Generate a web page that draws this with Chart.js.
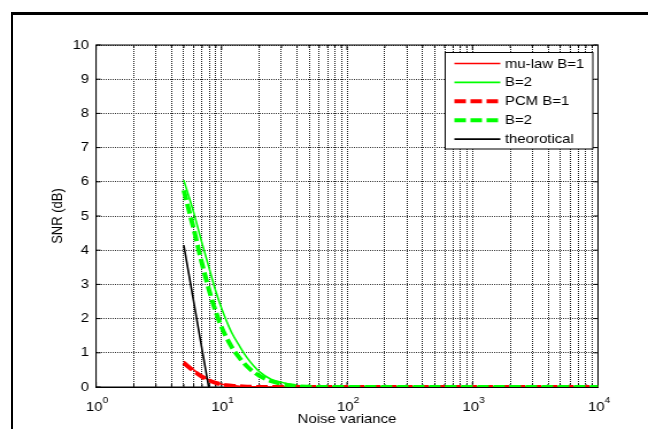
<!DOCTYPE html>
<html>
<head>
<meta charset="utf-8">
<script src="https://cdn.jsdelivr.net/npm/chart.js@4.4.1/dist/chart.umd.min.js"></script>
<style>
  html, body { margin: 0; padding: 0; background: #fff; overflow: hidden; }
  #frame { position: absolute; left: 11px; top: 12px; width: 700px; height: 500px;
           border-left: 2px solid #000; border-top: 3px solid #000; }
  /* the reference figure is stretched horizontally, so draw narrow and scale */
  #wrap { position: absolute; left: 0; top: 0; width: 564px; height: 429px;
          transform: scaleX(1.1489); transform-origin: 0 0; }
</style>
</head>
<body>
<div id="frame"></div>
<div id="wrap"><canvas id="c" width="564" height="429"></canvas></div>
<script>
// ── data ──
const NOISE_VAR = [5, 6, 7, 8, 9, 10, 12, 14, 16, 18, 20, 25, 30, 35, 40, 50, 70, 100, 200, 500, 1000, 2000, 5000, 10000];
const MULAW_B1  = [0.75, 0.50, 0.32, 0.20, 0.13, 0.08, 0.04, 0.02, 0.01, 0.005, 0, 0, 0, 0, 0, 0, 0, 0, 0, 0, 0, 0, 0, 0];
const MULAW_B2  = [6.05, 5.10, 4.20, 3.45, 2.80, 2.30, 1.60, 1.18, 0.85, 0.62, 0.45, 0.22, 0.14, 0.08, 0.04, 0.01, 0, 0, 0, 0, 0, 0, 0, 0];
const PCM_B1    = [0.70, 0.47, 0.30, 0.19, 0.12, 0.075, 0.04, 0.02, 0.01, 0.005, 0, 0, 0, 0, 0, 0, 0, 0, 0, 0, 0, 0, 0, 0];
const PCM_B2    = [5.75, 4.62, 3.60, 2.80, 2.20, 1.75, 1.18, 0.84, 0.60, 0.44, 0.33, 0.17, 0.09, 0.05, 0.02, 0.005, 0, 0, 0, 0, 0, 0, 0, 0];
const THEORY_X  = [5, 10];
const THEORY    = [4.15, -2.15];

const DECADES    = [1, 10, 100, 1000, 10000];
const DECADE_EXP = ['0', '1', '2', '3', '4'];
const MANTISSAS  = [1, 2, 3, 4, 5, 6, 7, 8, 9];
const LABELS     = ['mu-law B=1', 'B=2', 'PCM B=1', 'B=2', 'theorotical'];

const FONT = '"Liberation Sans", Arial, sans-serif';

const pts = (xs, ys) => xs.map((x, i) => ({ x, y: ys[i] }));

const line = (ctx, x1, y1, x2, y2) => {
  ctx.beginPath(); ctx.moveTo(x1, y1); ctx.lineTo(x2, y2); ctx.stroke();
};

// ── box, inward ticks, labels, titles, legend ──
const matlabAxes = {
  id: 'matlabAxes',
  beforeDatasetsDraw(chart) {
    const { ctx, chartArea: a, scales: { x, y } } = chart;
    ctx.save();
    ctx.strokeStyle = '#000';
    ctx.lineWidth = 1;
    ctx.strokeRect(a.left, a.top, a.right - a.left, a.bottom - a.top);
    x.ticks.forEach(t => {
      const px = x.getPixelForValue(t.value);
      const len = t.major ? 5 : 3;
      line(ctx, px, a.bottom, px, a.bottom - len);
      line(ctx, px, a.top, px, a.top + len);
    });
    y.ticks.forEach(t => {
      const py = y.getPixelForValue(t.value);
      line(ctx, a.left, py, a.left + 4, py);
      line(ctx, a.right, py, a.right - 4, py);
    });
    ctx.restore();
  },
  afterDraw(chart) {
    const { ctx, chartArea: a, scales: { x } } = chart;
    ctx.save();
    ctx.fillStyle = '#000';

    // x tick labels 10^n
    DECADES.forEach((v, i) => {
      const px = x.getPixelForValue(v);
      ctx.font = '13px ' + FONT;
      const w1 = ctx.measureText('10').width;
      ctx.font = '9px ' + FONT;
      const w2 = ctx.measureText(DECADE_EXP[i]).width;
      const x0 = px - (w1 + w2) / 2 + 1;
      ctx.textBaseline = 'alphabetic';
      ctx.textAlign = 'left';
      ctx.font = '13px ' + FONT;
      ctx.fillText('10', x0, 411);
      ctx.font = '9px ' + FONT;
      ctx.fillText(DECADE_EXP[i], x0 + w1, 403);
    });

    // axis titles
    ctx.font = '13px ' + FONT;
    ctx.textAlign = 'center';
    ctx.textBaseline = 'middle';
    ctx.fillText('Noise variance', (a.left + a.right) / 2, 419);
    ctx.save();
    ctx.translate(50.5, (a.top + a.bottom) / 2);
    ctx.rotate(-Math.PI / 2);
    ctx.fillText('SNR (dB)', 0, 0);
    ctx.restore();

    // legend
    const bw = 128.5, bh = 96.5;
    const bx = a.right - 4.5 - bw, by = a.top + 7.5;
    ctx.fillStyle = '#fff';
    ctx.fillRect(bx, by, bw, bh);
    ctx.strokeStyle = '#000';
    ctx.lineWidth = 1;
    ctx.strokeRect(bx, by, bw, bh);
    chart.data.datasets.forEach((ds, i) => {
      const ry = by + 11 + i * 18.9;
      ctx.strokeStyle = ds.borderColor;
      ctx.lineWidth = ds.borderWidth;
      ctx.setLineDash(ds.borderDash || []);
      line(ctx, bx + 8, ry, bx + 48, ry);
      ctx.setLineDash([]);
      ctx.fillStyle = '#000';
      ctx.font = '13px ' + FONT;
      ctx.textAlign = 'left';
      ctx.textBaseline = 'middle';
      ctx.fillText(LABELS[i], bx + 52, ry + 0.5);
    });
    ctx.restore();
  }
};

new Chart(document.getElementById('c'), {
  type: 'line',
  data: {
    datasets: [
      { label: LABELS[0], data: pts(NOISE_VAR, MULAW_B1), borderColor: '#ff0000', borderWidth: 1.6, order: 4 },
      { label: LABELS[1], data: pts(NOISE_VAR, MULAW_B2), borderColor: '#00ff00', borderWidth: 1.6, order: 3 },
      { label: LABELS[2], data: pts(NOISE_VAR, PCM_B1), borderColor: '#ff0000', borderWidth: 4, borderDash: [10, 4], order: 2 },
      { label: LABELS[3], data: pts(NOISE_VAR, PCM_B2), borderColor: '#00ff00', borderWidth: 4, borderDash: [10, 4], order: 1 },
      { label: LABELS[4], data: pts(THEORY_X, THEORY), borderColor: '#000000', borderWidth: 1.6, order: 0 },
    ],
  },
  options: {
    responsive: false,
    animation: false,
    layout: { padding: { left: 0, right: 43.5, top: 45, bottom: 0 } },
    elements: {
      point: { radius: 0 },
      line: { cubicInterpolationMode: 'monotone', fill: false },
    },
    plugins: { legend: { display: false }, tooltip: { enabled: false } },
    scales: {
      x: {
        type: 'logarithmic', position: 'bottom', min: 1, max: 10000,
        afterBuildTicks: s => {
          const ticks = [];
          DECADES.slice(0, -1).forEach(d => MANTISSAS.forEach(m => ticks.push({ value: d * m, major: m === 1 })));
          ticks.push({ value: DECADES[DECADES.length - 1], major: true });
          s.ticks = ticks;
        },
        afterFit: s => { s.height = 42; },
        ticks: { display: false },
        grid: { color: '#1a1a1a', lineWidth: 1, drawTicks: false },
        border: { display: true, color: '#000', width: 1, dash: [1, 1] },
      },
      y: {
        min: 0, max: 10,
        afterFit: s => { s.width = 83.6; },
        ticks: { stepSize: 1, color: '#000', padding: 6, font: { family: FONT, size: 13 } },
        grid: { color: '#333', lineWidth: 1, drawTicks: false },
        border: { display: true, color: '#000', width: 1, dash: [1, 1] },
      },
    },
  },
  plugins: [matlabAxes],
});
</script>
</body>
</html>
